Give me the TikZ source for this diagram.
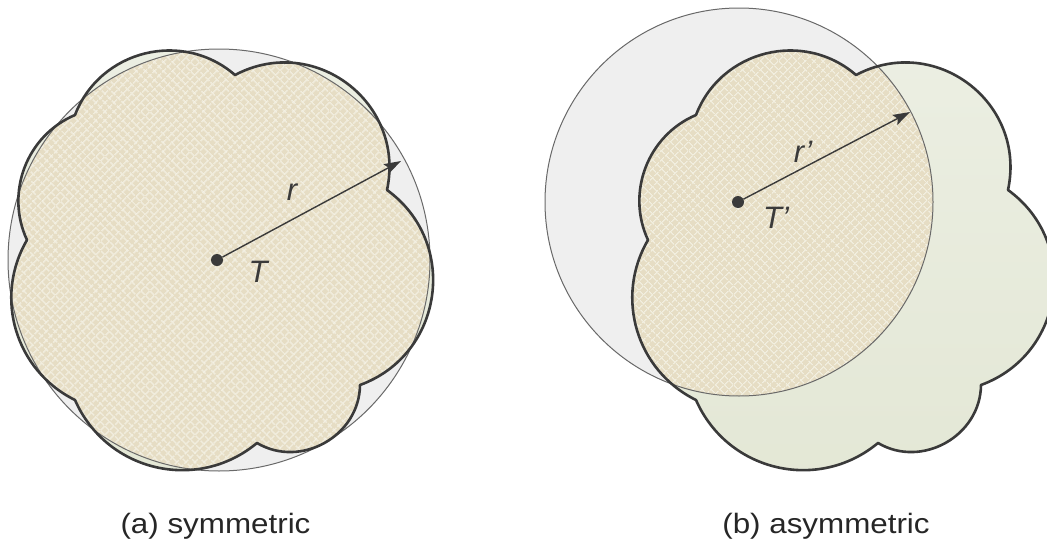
\documentclass[tikz,border=0pt]{standalone}
\usepackage{fontspec}
\setmainfont{Liberation Sans}
\usetikzlibrary{patterns.meta,arrows.meta}

\definecolor{beige}{RGB}{230,221,196}
\definecolor{hatch}{RGB}{242,239,224}
\definecolor{greentop}{RGB}{236,239,227}
\definecolor{greenbot}{RGB}{227,231,213}
\definecolor{grayfill}{RGB}{239,239,239}
\definecolor{outline}{RGB}{58,58,58}
\definecolor{circline}{RGB}{105,105,105}

\newcommand{\cloudshape}{(235,75) to[bend left=65,looseness=1.2] (387,190)
  to[bend left=62,looseness=1.16] (360,385)
  to[bend left=60,looseness=1.1] (257,443)
  to[bend left=53,looseness=1.07] (75,400)
  to[bend left=47,looseness=1.02] (27,240)
  to[bend left=46,looseness=1.0] (75,115)
  to[bend left=55,looseness=1.08] (235,75) -- cycle}

\tikzset{
  circfill/.style={fill=grayfill},
  cloudfill/.style={top color=greentop,bottom color=greenbot},
  hatchA/.style={pattern={Lines[angle=45,distance=6.4pt,line width=1.3pt]},pattern color=hatch},
  hatchB/.style={pattern={Lines[angle=-45,distance=6.4pt,line width=1.3pt]},pattern color=hatch},
  circedge/.style={draw=circline,line width=1pt},
  cloudedge/.style={draw=outline,line width=2.6pt,line join=round},
  dot/.style={circle,fill=outline,inner sep=0pt,minimum size=12pt},
  radius arrow/.style={draw=outline,line width=1.4pt,-{Stealth[length=17pt,width=11pt,inset=3pt]}},
  lab/.style={anchor=base,inner sep=0pt,font=\fontsize{31}{33}\selectfont\itshape,text=outline},
  captext/.style={anchor=base,inner sep=0pt,font=\fontsize{28}{30}\selectfont,text=black!85,xscale=1.12,transform shape}
}

\begin{document}
\begin{tikzpicture}[x=1pt,y=-1pt]
\useasboundingbox (0,0) rectangle (1047,546);

% ---------- (a) symmetric ----------
\fill[circfill] (219,260) circle[radius=211];
\shade[cloudfill] \cloudshape;
\begin{scope}
  \clip \cloudshape;
  \fill[beige] (219,260) circle[radius=211];
  \fill[hatchA] (219,260) circle[radius=211];
  \fill[hatchB] (219,260) circle[radius=211];
\end{scope}
\draw[circedge] (219,260) circle[radius=211];
\draw[cloudedge] \cloudshape;

\node[dot] (T) at (217,260) {};
\coordinate (Ra) at (401,161);
\draw[radius arrow] (T) -- (Ra);
\node[lab] (rl) at (292,200) {r};
\node[lab] (Tl) at (258,282) {T};
\node[captext] (capa) at (215.5,533) {(a) symmetric};

% ---------- (b) asymmetric ----------
\begin{scope}[shift={(621,0)}]
  \fill[circfill] (118,202) circle[radius=194];
  \shade[cloudfill] \cloudshape;
  \begin{scope}
    \clip \cloudshape;
    \fill[beige] (118,202) circle[radius=194];
    \fill[hatchA] (118,202) circle[radius=194];
    \fill[hatchB] (118,202) circle[radius=194];
  \end{scope}
  \draw[circedge] (118,202) circle[radius=194];
  \draw[cloudedge] \cloudshape;
\end{scope}

\node[dot] (Tp) at (738,202) {};
\coordinate (Rb) at (910,112);
\draw[radius arrow] (Tp) -- (Rb);
\node[lab] (rpl) at (803,162) {r'};
\node[lab] (Tpl) at (776,228) {T'};
\node[captext] (capb) at (826,533) {(b) asymmetric};
\end{tikzpicture}
\end{document}
